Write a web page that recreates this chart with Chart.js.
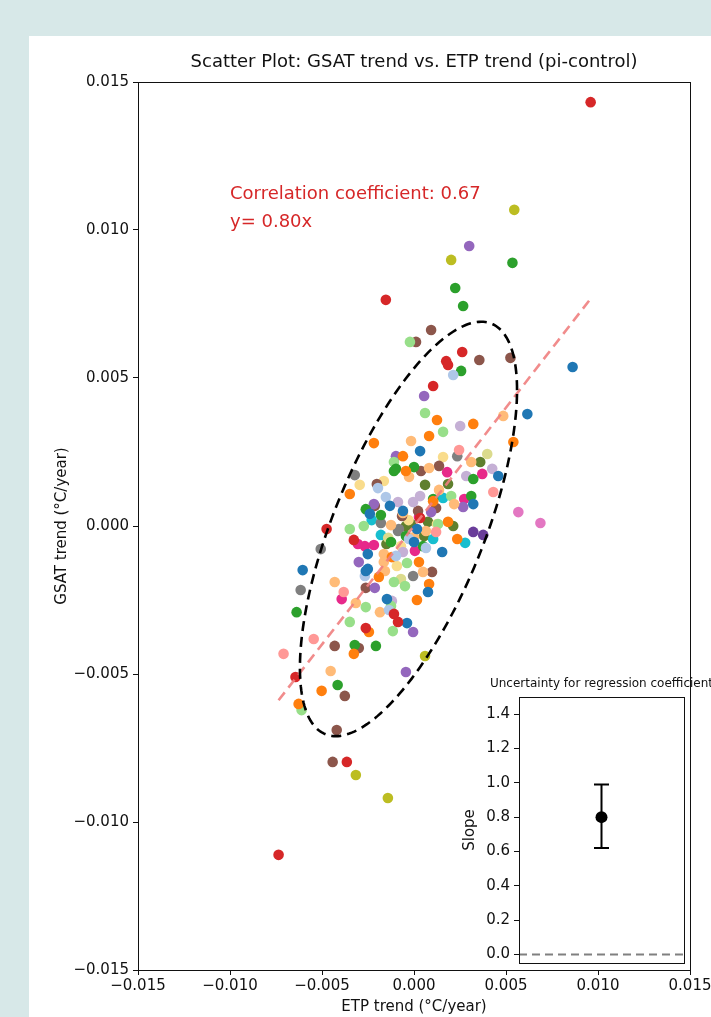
<!DOCTYPE html>
<html>
<head>
<meta charset="utf-8">
<script src="https://cdn.jsdelivr.net/npm/chart.js@4.4.0/dist/chart.umd.min.js"></script>
<style>
  html, body { margin: 0; padding: 0; width: 711px; height: 1017px; overflow: hidden; background: #d7e8e8; }
  #main { position: absolute; left: 0; top: 0; width: 711px; height: 1017px; }
  #inset { position: absolute; left: 440px; top: 660px; width: 300px; height: 340px; }
</style>
</head>
<body>
<canvas id="main" width="711" height="1017"></canvas>
<canvas id="inset" width="300" height="340"></canvas>
<script>
// ETP trend (x) and GSAT trend (y), °C/year, one pair of arrays per colour
const redX = [0.00960, -0.00153, 0.00262, 0.00175, 0.00185, 0.00104, -0.00475, -0.00327, -0.00109, -0.00087, -0.00262, -0.00644, -0.00365, -0.00736, 0.00033];
const redY = [0.01432, 0.00764, 0.00588, 0.00557, 0.00544, 0.00473, -0.00010, -0.00047, -0.00297, -0.00324, -0.00345, -0.00510, -0.00797, -0.01111, 0.00027];
const lightRedX = [0.00245, 0.00431, -0.00382, -0.00545, -0.00709, 0.00120];
const lightRedY = [0.00257, 0.00115, -0.00223, -0.00382, -0.00432, -0.00020];
const blueX = [0.00862, 0.00616, 0.00033, 0.00458, 0.00322, -0.00240, -0.00131, 0.00016, 0.00153, -0.00251, -0.00251, -0.00605, 0.00076, -0.00147, -0.00038, 0.00000, -0.00262, -0.00060];
const blueY = [0.00537, 0.00378, 0.00253, 0.00169, 0.00074, 0.00041, 0.00068, -0.00010, -0.00088, -0.00095, -0.00145, -0.00149, -0.00223, -0.00247, -0.00328, -0.00054, -0.00152, 0.00051];
const lightBlueX = [0.00213, -0.00196, -0.00153, -0.00027, 0.00065, -0.00136, -0.00267, -0.00098];
const lightBlueY = [0.00510, 0.00128, 0.00098, -0.00044, -0.00074, -0.00284, -0.00169, -0.00101];
const orangeX = [0.00125, 0.00322, 0.00082, -0.00218, 0.00540, -0.00060, -0.00044, -0.00349, 0.00185, 0.00235, 0.00027, -0.00191, 0.00082, 0.00016, -0.00245, -0.00327, -0.00502, -0.00627, 0.00104, -0.00120];
const orangeY = [0.00358, 0.00345, 0.00304, 0.00280, 0.00284, 0.00236, 0.00186, 0.00108, 0.00014, -0.00044, -0.00122, -0.00172, -0.00196, -0.00250, -0.00358, -0.00432, -0.00557, -0.00601, 0.00084, -0.00105];
const lightOrangeX = [0.00485, -0.00016, 0.00311, 0.00082, -0.00027, 0.00136, 0.00218, -0.00125, 0.00065, -0.00164, 0.00049, -0.00158, -0.00431, -0.00316, -0.00185, -0.00453, 0.00000, -0.00164, -0.00060];
const lightOrangeY = [0.00372, 0.00287, 0.00216, 0.00196, 0.00166, 0.00122, 0.00074, 0.00003, -0.00017, -0.00095, -0.00155, -0.00152, -0.00189, -0.00260, -0.00291, -0.00490, -0.00037, -0.00122, 0.00044];
const greenX = [0.00535, 0.00224, 0.00267, 0.00256, -0.00109, 0.00322, 0.00311, 0.00104, -0.00262, -0.00044, -0.00125, 0.00049, -0.00638, -0.00322, -0.00207, -0.00415, 0.00000, -0.00098, -0.00180];
const greenY = [0.00889, 0.00804, 0.00743, 0.00524, 0.00186, 0.00159, 0.00101, 0.00091, 0.00057, -0.00034, -0.00054, -0.00068, -0.00291, -0.00402, -0.00405, -0.00537, 0.00199, 0.00193, 0.00037];
const lightGreenX = [-0.00022, 0.00060, 0.00158, -0.00109, 0.00202, 0.00131, -0.00349, -0.00273, -0.00109, -0.00049, -0.00262, -0.00125, -0.00349, -0.00115, -0.00611, -0.00038];
const lightGreenY = [0.00622, 0.00382, 0.00318, 0.00216, 0.00101, 0.00007, -0.00010, 0.00000, -0.00189, -0.00203, -0.00274, -0.00270, -0.00324, -0.00355, -0.00622, -0.00125];
const purpleX = [0.00300, 0.00055, -0.00098, 0.00093, 0.00267, -0.00300, -0.00213, -0.00005, -0.00044, -0.00218];
const purpleY = [0.00946, 0.00439, 0.00236, 0.00047, 0.00064, -0.00122, -0.00209, -0.00358, -0.00493, 0.00074];
const darkPurpleX = [0.00322, 0.00376];
const darkPurpleY = [-0.00020, -0.00030];
const lightPurpleX = [0.00251, 0.00284, 0.00425, 0.00033, -0.00005, -0.00087, -0.00120, -0.00060];
const lightPurpleY = [0.00338, 0.00169, 0.00193, 0.00101, 0.00081, 0.00081, -0.00253, -0.00088];
const brownX = [0.00093, 0.00011, 0.00355, 0.00524, 0.00136, 0.00038, -0.00202, -0.00213, 0.00022, -0.00262, 0.00098, -0.00431, -0.00300, -0.00376, -0.00442, -0.00420, -0.00065, 0.00120];
const brownY = [0.00662, 0.00622, 0.00561, 0.00568, 0.00203, 0.00186, 0.00142, 0.00068, 0.00051, -0.00209, -0.00155, -0.00405, -0.00412, -0.00574, -0.00797, -0.00689, 0.00034, 0.00061];
const magentaX = [0.00180, 0.00371, 0.00273, 0.00027, -0.00267, -0.00218, 0.00005, -0.00393, -0.00305];
const magentaY = [0.00182, 0.00176, 0.00091, 0.00030, -0.00068, -0.00064, -0.00084, -0.00247, -0.00061];
const pinkX = [0.00567, 0.00687];
const pinkY = [0.00047, 0.00010];
const grayX = [-0.00322, 0.00235, -0.00180, -0.00087, -0.00507, -0.00005, -0.00616, -0.00082];
const grayY = [0.00172, 0.00236, 0.00010, -0.00017, -0.00078, -0.00169, -0.00216, -0.00010];
const oliveX = [0.00545, 0.00202, 0.00060, -0.00316, -0.00142];
const oliveY = [0.01068, 0.00899, -0.00439, -0.00841, -0.00919];
const lightOliveX = [0.00398, -0.00071, -0.00140];
const lightOliveY = [0.00243, -0.00179, -0.00040];
const lightYellowX = [0.00158, -0.00295, -0.00164, 0.00125, -0.00071, -0.00093, -0.00030];
const lightYellowY = [0.00233, 0.00139, 0.00152, 0.00007, -0.00068, -0.00135, 0.00020];
const cyanX = [0.00158, -0.00180, 0.00104, 0.00278, -0.00230];
const cyanY = [0.00095, -0.00030, -0.00044, -0.00057, 0.00020];
const darkOliveX = [0.00360, 0.00060, 0.00185, -0.00044, 0.00076, 0.00213, -0.00016, 0.00055, -0.00150];
const darkOliveY = [0.00216, 0.00139, 0.00142, 0.00000, 0.00014, 0.00000, 0.00007, -0.00034, -0.00061];

// fit results
const slope = 0.80;
const corrCoef = 0.67;
const slopeLow = 0.62;
const slopeHigh = 0.99;

// confidence ellipse (data units)
const ellipseCenter = [-0.0003, -0.0001];
const ellipseSpread = [0.0059, 0.0070];

// tick labels
const xTicks = [-0.015, -0.010, -0.005, 0.000, 0.005, 0.010, 0.015];
const yTicks = [-0.015, -0.010, -0.005, 0.000, 0.005, 0.010, 0.015];
const insetTicks = [0.0, 0.2, 0.4, 0.6, 0.8, 1.0, 1.2, 1.4];

const groups = [
    [redX, redY, '#d62728'],
    [lightRedX, lightRedY, '#ff9896'],
    [blueX, blueY, '#1f77b4'],
    [lightBlueX, lightBlueY, '#aec7e8'],
    [orangeX, orangeY, '#ff7f0e'],
    [lightOrangeX, lightOrangeY, '#ffbb78'],
    [greenX, greenY, '#2ca02c'],
    [lightGreenX, lightGreenY, '#98df8a'],
    [purpleX, purpleY, '#9467bd'],
    [darkPurpleX, darkPurpleY, '#6a3d9a'],
    [lightPurpleX, lightPurpleY, '#c5b0d5'],
    [brownX, brownY, '#8c564b'],
    [magentaX, magentaY, '#e7298a'],
    [pinkX, pinkY, '#e377c2'],
    [grayX, grayY, '#7f7f7f'],
    [oliveX, oliveY, '#bcbd22'],
    [lightOliveX, lightOliveY, '#dbdb8d'],
    [lightYellowX, lightYellowY, '#f9dc8c'],
    [cyanX, cyanY, '#17becf'],
    [darkOliveX, darkOliveY, '#5f7f2e']
];

Chart.defaults.font.family = '"DejaVu Sans", sans-serif';
Chart.defaults.color = '#111';

const fmt3 = v => (v < -1e-12 ? '\u2212' : '') + Math.abs(v).toFixed(3);

const allX = groups.flatMap(g => g[0]);
const xMin = Math.min(...allX);
const xMax = Math.max(...allX);

const scatterSets = groups.map(g => ({
    data: g[0].map((x, i) => ({ x: x, y: g[1][i] })),
    backgroundColor: g[2],
    borderWidth: 0,
    pointRadius: 5.3
}));

// background, white panel, frame, ellipse, title and notes
const mainDecor = {
    id: 'mainDecor',
    beforeDraw(chart) {
        const ctx = chart.ctx;
        ctx.save();
        ctx.fillStyle = '#d7e8e8';
        ctx.fillRect(0, 0, chart.width, chart.height);
        ctx.fillStyle = '#ffffff';
        ctx.fillRect(29, 36, chart.width - 29, chart.height - 36);
        ctx.restore();
    },
    afterDatasetsDraw(chart) {
        const ctx = chart.ctx;
        const xs = chart.scales.x, ys = chart.scales.y;
        const rho = corrCoef;
        ctx.save();
        ctx.beginPath();
        for (let i = 0; i <= 240; i++) {
            const t = i / 240 * Math.PI * 2;
            const ex = ellipseCenter[0] + ellipseSpread[0] * Math.cos(t);
            const ey = ellipseCenter[1] + ellipseSpread[1] * (rho * Math.cos(t) + Math.sqrt(1 - rho * rho) * Math.sin(t));
            const px = xs.getPixelForValue(ex), py = ys.getPixelForValue(ey);
            if (i === 0) ctx.moveTo(px, py); else ctx.lineTo(px, py);
        }
        ctx.closePath();
        ctx.setLineDash([10, 6]);
        ctx.lineWidth = 2.6;
        ctx.strokeStyle = '#000';
        ctx.stroke();
        ctx.restore();
    },
    afterDraw(chart) {
        const ctx = chart.ctx;
        const a = chart.chartArea;
        const xs = chart.scales.x, ys = chart.scales.y;
        ctx.save();
        ctx.strokeStyle = '#111';
        ctx.lineWidth = 1;
        ctx.strokeRect(Math.round(a.left) + 0.5, Math.round(a.top) + 0.5, Math.round(a.right - a.left), Math.round(a.bottom - a.top));

        ctx.fillStyle = '#111';
        ctx.font = '18px "DejaVu Sans"';
        ctx.textAlign = 'center';
        ctx.textBaseline = 'middle';
        ctx.fillText('Scatter Plot: GSAT trend vs. ETP trend (pi-control)', (a.left + a.right) / 2, 62);

        ctx.fillStyle = '#d62728';
        ctx.font = '18px "DejaVu Sans"';
        ctx.textAlign = 'left';
        const tx = xs.getPixelForValue(-0.0100);
        ctx.fillText('Correlation coefficient: ' + corrCoef.toFixed(2), tx, ys.getPixelForValue(0.01122));
        ctx.fillText('y= ' + slope.toFixed(2) + 'x', tx, ys.getPixelForValue(0.01027));
        ctx.restore();
    }
};

new Chart(document.getElementById('main'), {
    type: 'scatter',
    data: {
        datasets: [{
            data: [{ x: xMin, y: slope * xMin }, { x: xMax, y: slope * xMax }],
            showLine: true,
            pointRadius: 0,
            borderColor: 'rgba(240, 128, 128, 0.9)',
            borderWidth: 2.6,
            borderDash: [10, 6]
        }].concat(scatterSets)
    },
    options: {
        responsive: false,
        animation: false,
        events: [],
        layout: { padding: { top: 82, right: 21, bottom: 0, left: 0 } },
        plugins: { legend: { display: false }, tooltip: { enabled: false } },
        scales: {
            x: {
                type: 'linear',
                min: -0.015,
                max: 0.015,
                afterBuildTicks: s => { s.ticks = xTicks.map(v => ({ value: v })); },
                afterFit: s => { s.height = 47; s.paddingLeft = 0; s.paddingRight = 0; },
                ticks: { callback: v => fmt3(v), font: { size: 15 }, padding: 2, maxRotation: 0, autoSkip: false },
                grid: { drawOnChartArea: false, tickLength: 5, color: '#111' },
                border: { color: '#111' },
                title: { display: true, text: 'ETP trend (°C/year)', font: { size: 15 }, padding: { top: 0, bottom: 1 } }
            },
            y: {
                type: 'linear',
                min: -0.015,
                max: 0.015,
                afterBuildTicks: s => { s.ticks = yTicks.map(v => ({ value: v })); },
                afterFit: s => { s.width = 138; s.paddingTop = 0; s.paddingBottom = 0; },
                ticks: { callback: v => fmt3(v), font: { size: 15 }, padding: 4, autoSkip: false },
                grid: { drawOnChartArea: false, tickLength: 5, color: '#111' },
                border: { color: '#111' },
                title: { display: true, text: 'GSAT trend (°C/year)', font: { size: 15 }, padding: { top: 53, bottom: 0 } }
            }
        }
    },
    plugins: [mainDecor]
});

// inset: slope with its uncertainty
const insetDecor = {
    id: 'insetDecor',
    beforeDatasetsDraw(chart) {
        const ctx = chart.ctx;
        const xs = chart.scales.x, ys = chart.scales.y;
        const px = xs.getPixelForValue(0);
        const yLo = ys.getPixelForValue(slopeLow), yHi = ys.getPixelForValue(slopeHigh);
        ctx.save();
        ctx.strokeStyle = '#000';
        ctx.lineWidth = 2;
        ctx.beginPath();
        ctx.moveTo(px, yLo); ctx.lineTo(px, yHi);
        ctx.moveTo(px - 7.5, yLo); ctx.lineTo(px + 7.5, yLo);
        ctx.moveTo(px - 7.5, yHi); ctx.lineTo(px + 7.5, yHi);
        ctx.stroke();
        ctx.restore();
    },
    afterDraw(chart) {
        const ctx = chart.ctx;
        const a = chart.chartArea;
        ctx.save();
        ctx.strokeStyle = '#111';
        ctx.lineWidth = 1;
        ctx.strokeRect(Math.round(a.left) + 0.5, Math.round(a.top) + 0.5, Math.round(a.right - a.left), Math.round(a.bottom - a.top));
        ctx.fillStyle = '#111';
        ctx.font = '12px "DejaVu Sans"';
        ctx.textAlign = 'center';
        ctx.textBaseline = 'middle';
        ctx.fillText('Uncertainty for regression coefficient', (a.left + a.right) / 2, 24);
        ctx.restore();
    }
};

new Chart(document.getElementById('inset'), {
    type: 'scatter',
    data: {
        datasets: [
            { data: [{ x: 0, y: slope }], backgroundColor: '#000', borderWidth: 0, pointRadius: 6 },
            { data: [{ x: -1, y: 0 }, { x: 1, y: 0 }], showLine: true, pointRadius: 0, borderColor: '#808080', borderWidth: 2, borderDash: [8, 5] }
        ]
    },
    options: {
        responsive: false,
        animation: false,
        events: [],
        layout: { padding: { top: 37, right: 56, bottom: 37, left: 0 } },
        plugins: { legend: { display: false }, tooltip: { enabled: false } },
        scales: {
            x: { type: 'linear', display: false, min: -1, max: 1 },
            y: {
                type: 'linear',
                min: -0.05,
                max: 1.5,
                afterBuildTicks: s => { s.ticks = insetTicks.map(v => ({ value: v })); },
                afterFit: s => { s.width = 79; s.paddingTop = 0; s.paddingBottom = 0; },
                ticks: { callback: v => v.toFixed(1), font: { size: 15 }, padding: 4, autoSkip: false },
                grid: { drawOnChartArea: false, tickLength: 5, color: '#111' },
                border: { color: '#111' },
                title: { display: true, text: 'Slope', font: { size: 15 }, padding: { top: 21, bottom: 0 } }
            }
        }
    },
    plugins: [insetDecor]
});
</script>
</body>
</html>
